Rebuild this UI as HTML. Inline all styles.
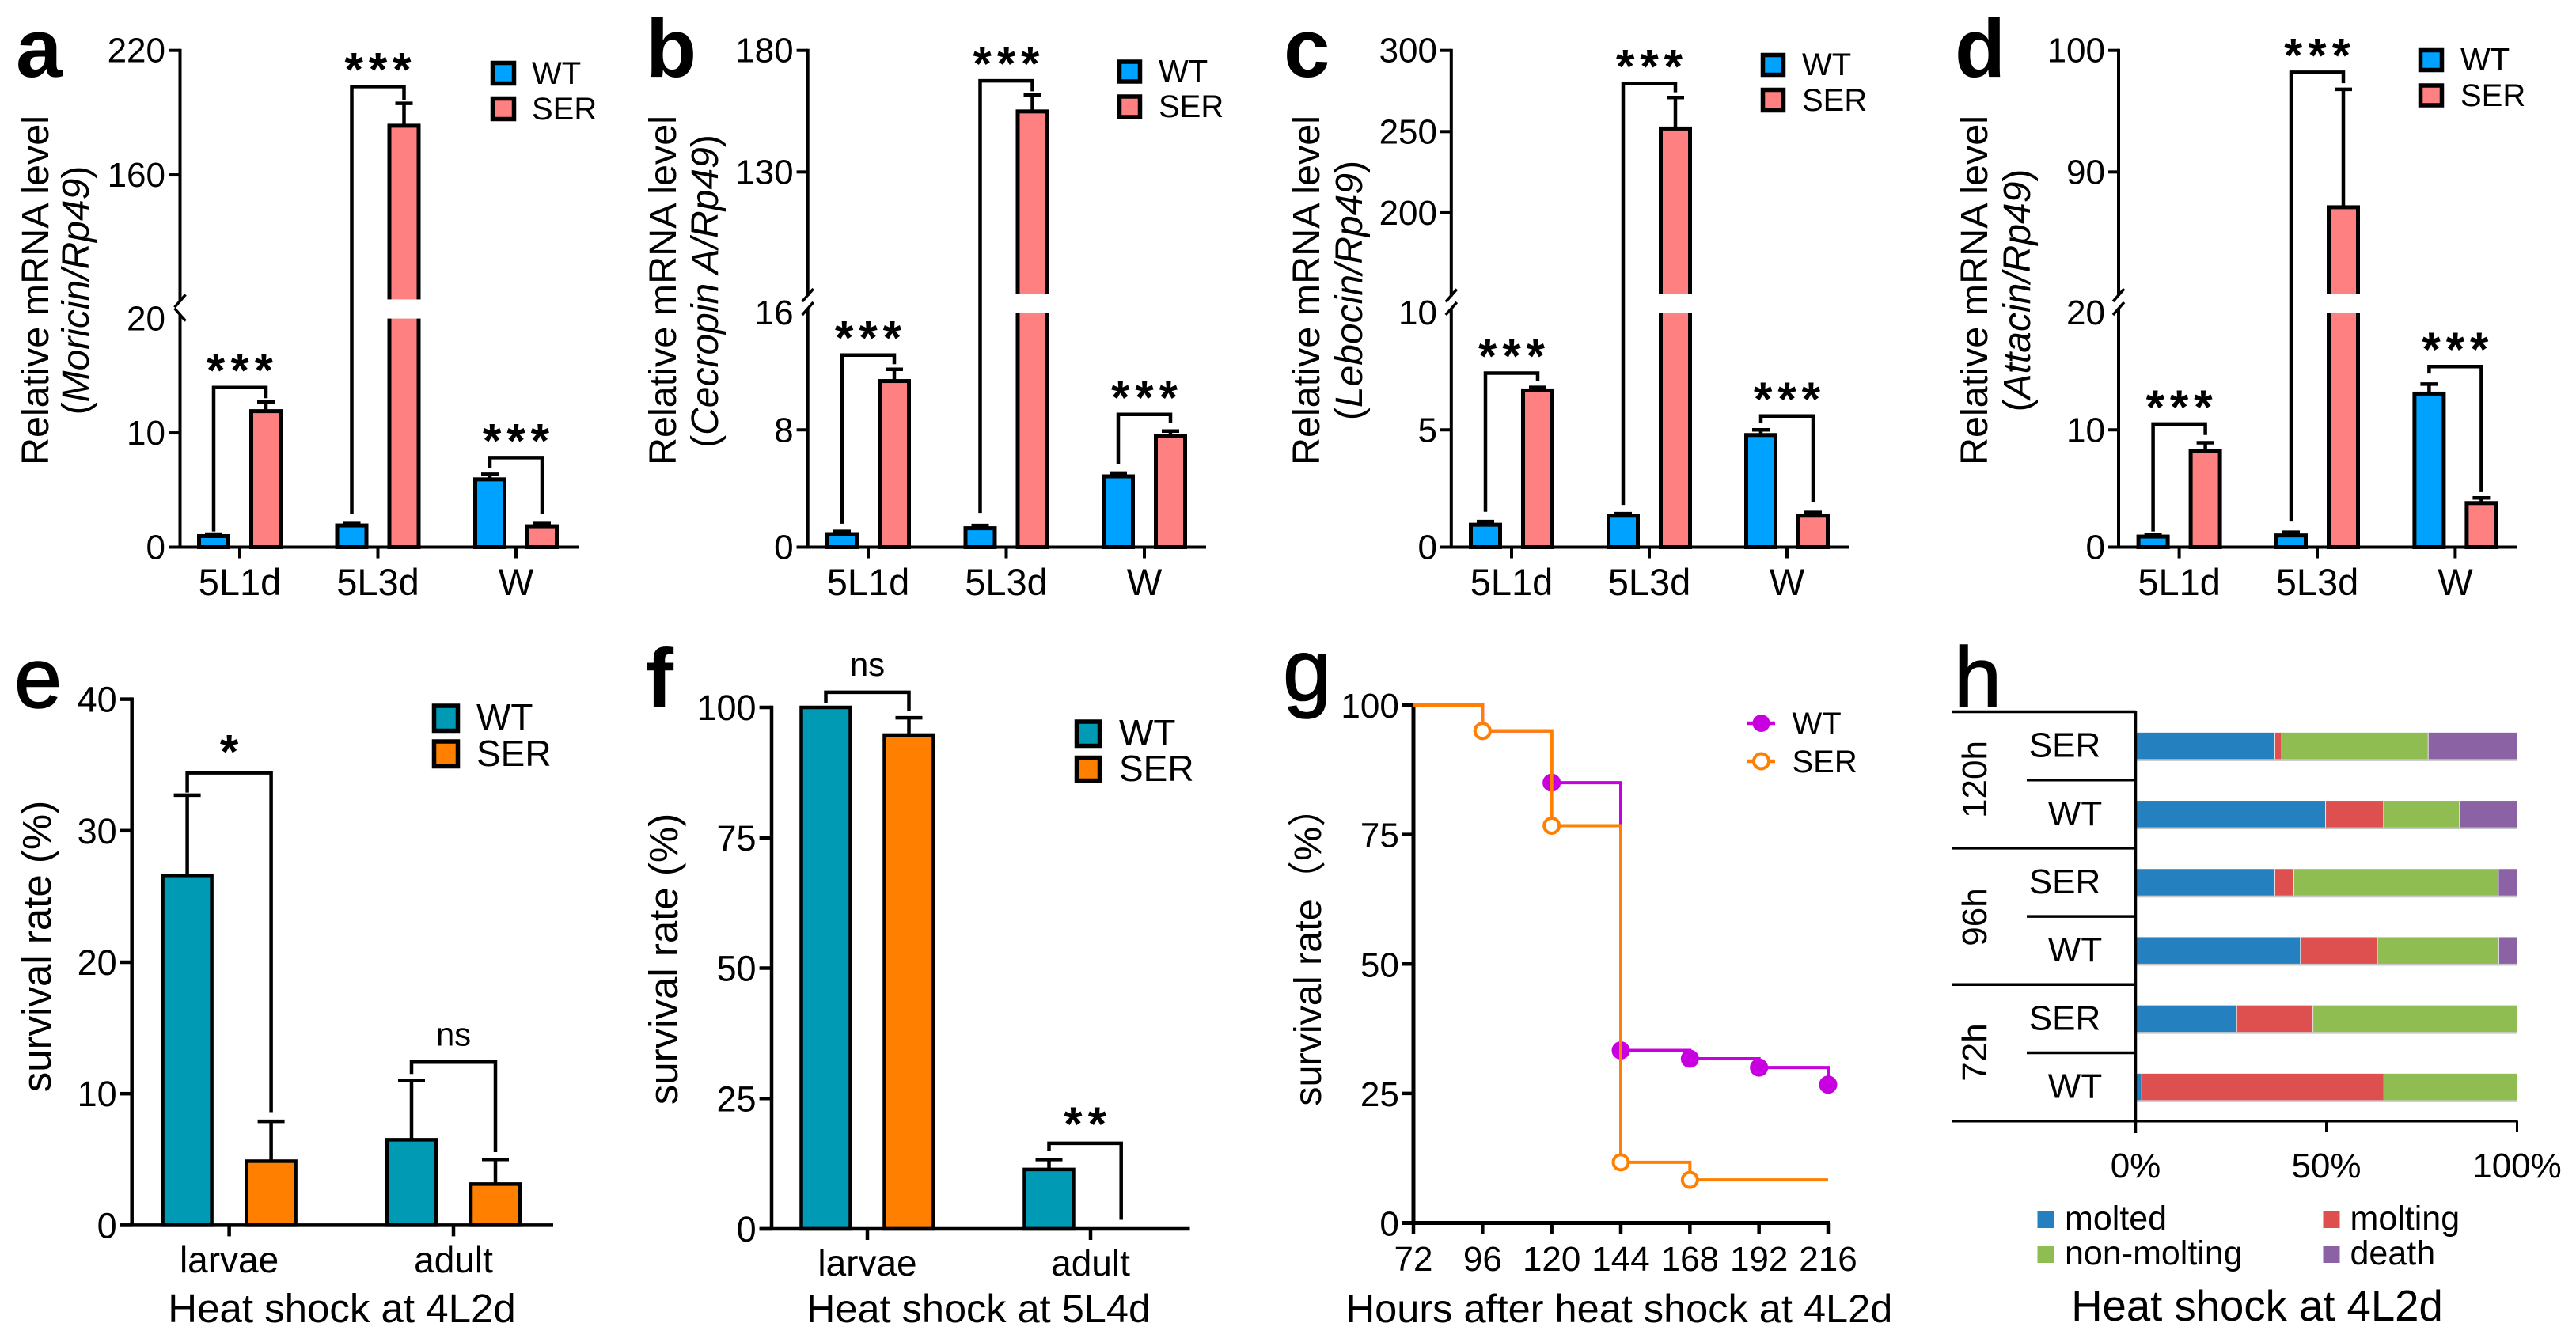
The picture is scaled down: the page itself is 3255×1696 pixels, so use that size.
<!DOCTYPE html>
<html lang="en">
<head>
<meta charset="utf-8">
<title>Relative mRNA levels and survival rates, panels a to h</title>
<style>
html,body{margin:0;padding:0;background:#fff;}
svg{display:block;}
text{font-family:"Liberation Sans","Noto Sans CJK SC",sans-serif;fill:#000;}
.letter{font-size:105px;font-weight:bold;}
.letter-light{font-size:108px;stroke:#000;stroke-width:1.5;}
.ytitle{font-size:48.5px;text-anchor:middle;}
.ltxt{font-size:40px;}
.ltxt2{font-size:46px;}
.xtitle{font-size:50.5px;text-anchor:middle;}
.it{font-style:italic;}
.sw{stroke:#000;stroke-width:5.5;}
</style>
</head>
<body>
<svg id="fig" xmlns="http://www.w3.org/2000/svg" width="3255" height="1696" viewBox="0 0 3255 1696">
<rect width="3255" height="1696" fill="#fff"/>

<g id="panel-a">
  <text class="letter" x="20" y="97">a</text>
  <text class="ytitle" transform="translate(61,367) rotate(-90)">Relative mRNA level</text>
  <text class="ytitle" style="font-size:48px" transform="translate(112,367) rotate(-90)">(<tspan class="it">Moricin/Rp49</tspan>)</text>
  <rect class="sw" x="622.5" y="79.5" width="27" height="26" fill="#00a2ff"/>
  <rect class="sw" x="622.5" y="124.5" width="27" height="26" fill="#ff8080"/>
  <text class="ltxt" x="672" y="106">WT</text>
  <text class="ltxt" x="672" y="151">SER</text>
</g>

<g id="panel-b">
  <text class="letter" x="816" y="97">b</text>
  <text class="ytitle" transform="translate(854,367) rotate(-90)">Relative mRNA level</text>
  <text class="ytitle" style="font-size:48px" transform="translate(907,368) rotate(-90)">(<tspan class="it">Cecropin A/Rp49</tspan>)</text>
  <rect class="sw" x="1414.5" y="78" width="26" height="25" fill="#00a2ff"/>
  <rect class="sw" x="1414.5" y="122" width="26" height="26" fill="#ff8080"/>
  <text class="ltxt" x="1464" y="103.5">WT</text>
  <text class="ltxt" x="1464" y="148">SER</text>
</g>

<g id="panel-c">
  <text class="letter" x="1622" y="97">c</text>
  <text class="ytitle" transform="translate(1667,367) rotate(-90)">Relative mRNA level</text>
  <text class="ytitle" style="font-size:48px" transform="translate(1721,367) rotate(-90)">(<tspan class="it">Lebocin/Rp49</tspan>)</text>
  <rect class="sw" x="2227.5" y="69.5" width="26" height="25" fill="#00a2ff"/>
  <rect class="sw" x="2227.5" y="113.5" width="26" height="26" fill="#ff8080"/>
  <text class="ltxt" x="2277" y="95">WT</text>
  <text class="ltxt" x="2277" y="140">SER</text>
</g>

<g id="panel-d">
  <text class="letter" x="2470" y="97">d</text>
  <text class="ytitle" transform="translate(2511,367) rotate(-90)">Relative mRNA level</text>
  <text class="ytitle" style="font-size:48px" transform="translate(2565,367) rotate(-90)">(<tspan class="it">Attacin/Rp49</tspan>)</text>
  <rect class="sw" x="3058.5" y="63.5" width="27" height="25" fill="#00a2ff"/>
  <rect class="sw" x="3058.5" y="108" width="27" height="25" fill="#ff8080"/>
  <text class="ltxt" x="3109" y="88.5">WT</text>
  <text class="ltxt" x="3109" y="134">SER</text>
</g>

<g id="panel-e">
  <text class="letter-light" x="18" y="894">e</text>
  <text class="ytitle" style="font-size:51px" transform="translate(64,1196) rotate(-90)">survival rate (%)</text>
  <text class="xtitle" style="font-size:51px" x="432" y="1671">Heat shock at 4L2d</text>
  <rect class="sw" x="548.5" y="892" width="30" height="31.5" fill="#009ab5"/>
  <rect class="sw" x="548.5" y="937" width="30" height="31.5" fill="#ff8000"/>
  <text class="ltxt2" x="602" y="922">WT</text>
  <text class="ltxt2" x="602" y="968">SER</text>
</g>

<g id="panel-f">
  <text class="letter" x="816" y="893">f</text>
  <text class="ytitle" style="font-size:51px" transform="translate(856,1212) rotate(-90)">survival rate (%)</text>
  <text class="xtitle" x="1236.5" y="1671">Heat shock at 5L4d</text>
  <rect class="sw" x="1360.5" y="912" width="29" height="30.5" fill="#009ab5"/>
  <rect class="sw" x="1360.5" y="957.5" width="29" height="29" fill="#ff8000"/>
  <text class="ltxt2" x="1414" y="942">WT</text>
  <text class="ltxt2" x="1414" y="987">SER</text>
</g>

<g id="panel-g">
  <text class="letter-light" style="font-size:110px" x="1621" y="885">g</text>
  <text class="ytitle" style="font-size:48.5px" transform="translate(1669,1197) rotate(-90)">survival rate（%）</text>
  <text class="xtitle" x="2046" y="1671">Hours after heat shock at 4L2d</text>
  <line x1="2208" y1="914" x2="2243" y2="914" stroke="#c800e0" stroke-width="4.5"/>
  <ellipse cx="2225.5" cy="914" rx="11" ry="11" fill="#c800e0"/>
  <line x1="2208" y1="962" x2="2243" y2="962" stroke="#ff8000" stroke-width="4.5"/>
  <circle cx="2225.5" cy="962" r="9.5" fill="#fff" stroke="#ff8000" stroke-width="4"/>
  <text class="ltxt" x="2264.5" y="928">WT</text>
  <text class="ltxt" x="2264.5" y="976">SER</text>
</g>

<g id="panel-h">
  <text class="letter-light" x="2469" y="893">h</text>
  <text class="ytitle" style="font-size:44px" transform="translate(2510,985) rotate(-90)">120h</text>
  <text class="ytitle" style="font-size:44px" transform="translate(2510,1159) rotate(-90)">96h</text>
  <text class="ytitle" style="font-size:44px" transform="translate(2510,1330) rotate(-90)">72h</text>
  <text class="xtitle" style="font-size:54.5px" x="2852" y="1669">Heat shock at 4L2d</text>
  <rect x="2574.5" y="1530" width="21.5" height="22" fill="#2580c0"/>
  <rect x="2574.5" y="1575" width="21.5" height="21" fill="#8fbd52"/>
  <rect x="2935.5" y="1530" width="21" height="22" fill="#de5050"/>
  <rect x="2935.5" y="1575" width="21" height="21" fill="#8b62a3"/>
  <text style="font-size:43px" x="2609" y="1554">molted</text>
  <text style="font-size:43px" x="2609" y="1598">non-molting</text>
  <text style="font-size:43px" x="2969.5" y="1554">molting</text>
  <text style="font-size:43px" x="2969.5" y="1598">death</text>
</g>
</svg>

<script>
// ---------- chart data ----------
const mrnaCategories = ['5L1d', '5L3d', 'W'];
const stageCategories = ['larvae', 'adult'];

const aTicks = [0, 10, 20, 160, 220];
const aWT = [0.97, 1.9, 5.93];
const aWTErr = [1.14, 2.07, 6.38];
const aSER = [11.9, 183.7, 1.83];
const aSERErr = [12.7, 194.5, 2.07];
const aBracketTop = [13.97, 202.6, 7.83];
const aBracketLeft = [1.38, 2.93, 6.9];
const aBracketRight = [13.03, 195.9, 2.93];
const aMarks = ['***', '***', '***'];

const bTicks = [0, 8, 16, 130, 180];
const bWT = [0.89, 1.29, 4.83];
const bWTErr = [1.07, 1.48, 5.05];
const bSER = [11.33, 154.9, 7.6];
const bSERErr = [12.13, 161.6, 7.92];
const bBracketTop = [13.1, 167.5, 9.05];
const bBracketLeft = [1.6, 2.34, 5.69];
const bBracketRight = [12.48, 163.2, 8.46];
const bMarks = ['***', '***', '***'];

const cTicks = [0, 5, 10, 200, 250, 300];
const cWT = [0.956, 1.34, 4.78];
const cWTErr = [1.09, 1.43, 5.0];
const cSER = [6.68, 251.9, 1.34];
const cSERErr = [6.81, 271, 1.48];
const cBracketTop = [7.42, 279.7, 5.59];
const cBracketLeft = [1.51, 1.8, 5.29];
const cBracketRight = [7.08, 274.2, 1.93];
const cMarks = ['***', '***', '***'];

const dTicks = [0, 10, 20, 90, 100];
const dWT = [0.906, 1.0, 13.09];
const dWTErr = [1.1, 1.27, 13.9];
const dSER = [8.2, 87.1, 3.76];
const dSERErr = [8.9, 96.8, 4.2];
const dBracketTop = [10.5, 98.2, 15.4];
const dBracketLeft = [1.34, 2.18, 14.8];
const dBracketRight = [9.56, 97.3, 4.7];
const dMarks = ['***', '***', '***'];

const eTicks = [0, 10, 20, 30, 40];
const eWT = [26.6, 6.5];
const eWTErr = [32.7, 11.0];
const eSER = [4.87, 3.13];
const eSERErr = [7.9, 5.0];
const eBracketTop = [34.4, 12.4];
const eBracketLeft = [32.9, 11.5];
const eBracketRight = [8.6, 5.56];
const eMarks = ['*', 'ns'];

const fTicks = [0, 25, 50, 75, 100];
const fWT = [100, 11.4];
const fWTErr = [100, 13.3];
const fSER = [94.7, 0];
const fSERErr = [98, 0];
const fBracketTop = [102.9, 16.4];
const fBracketLeft = [100.9, 14.9];
const fBracketRight = [99.3, 1.75];
const fMarks = ['ns', '**'];

const gHours = [72, 96, 120, 144, 168, 192, 216];
const gTicks = [0, 25, 50, 75, 100];
const gWT = [100, 95, 85, 33.3, 31.7, 30, 26.7];
const gSER = [100, 95, 76.7, 11.7, 8.3, 8.3, 8.3];

const hRows = ['SER', 'WT', 'SER', 'WT', 'SER', 'WT'];
const hMolted = [36.5, 49.8, 36.5, 43.2, 26.5, 1.6];
const hMolting = [1.8, 15.2, 5, 20.2, 20, 63.5];
const hNonMolting = [38.4, 19.9, 53.6, 31.8, 53.5, 34.9];
const hDeath = [23.3, 15.1, 4.9, 4.8, 0, 0];
const hTicks = [0, 50, 100];

// ---------- helpers ----------
const NS = 'http://www.w3.org/2000/svg';
function mk(tag, attrs, parent, name) {
  const el = document.createElementNS(NS, tag);
  for (const k in attrs) el.setAttribute(k, attrs[k]);
  
  
  parent.appendChild(el);
  return el;
}
function txt(str, attrs, parent, name) {
  const el = mk('text', attrs, parent, name);
  el.textContent = str;
  return el;
}
function line(x1, y1, x2, y2, w, parent, name, color) {
  return mk('line', {x1: x1, y1: y1, x2: x2, y2: y2, stroke: color || '#000', 'stroke-width': w}, parent, name);
}
function yScale(s) {
  return function (v) {
    if (s.lowMax === undefined) return s.base - v / s.max * (s.base - s.top);
    if (v <= s.lowMax) return s.base - v / s.lowMax * (s.base - s.lowTop);
    return s.upBottom - (v - s.upMin) / (s.max - s.upMin) * (s.upBottom - s.top);
  };
}

function barPanel(id, L, cats, ticks, wt, wtErr, ser, serErr, bTop, bLeft, bRight, marks) {
  const g = document.getElementById('panel-' + id);
  const y = yScale(L.y);
  const xCat = function (i) { return L.catX0 + L.catStep * i; };
  const sw = L.barStroke, ax = L.axisStroke;

  // y axis
  if (L.y.lowMax !== undefined) {
    line(L.axisX, L.y.top - ax / 2, L.axisX, L.y.upBottom + 3, ax, g, 'y-axis-upper-' + id);
    line(L.axisX, L.y.lowTop - 5, L.axisX, L.y.base, ax, g, 'y-axis-lower-' + id);
    const m = L.mirrorBreak ? -1 : 1;
    line(L.axisX - 7, L.y.upBottom + 10, L.axisX + 7, L.y.upBottom - 6, 3.5, g, 'axis-break-upper-' + id);
    line(L.axisX - 7, L.y.lowTop - 5 + 8 * (m === -1 ? -1 : 1), L.axisX + 7, L.y.lowTop - 5 - 8 * (m === -1 ? -1 : 1), 3.5, g, 'axis-break-lower-' + id);
  } else {
    line(L.axisX, L.y.top - ax / 2, L.axisX, L.y.base, ax, g, 'y-axis-' + id);
  }
  // y ticks
  ticks.forEach(function (t) {
    if (t !== L.y.lowMax) line(L.tickStart, y(t), L.axisX, y(t), ax, g, 'y-tick-' + id + '-' + t);
    txt(String(t), {x: L.tickStart - 4, y: y(t) + L.tickDy, 'text-anchor': 'end', 'font-size': L.tickFont}, g, 'y-tick-label-' + id + '-' + t);
  });

  // bars
  cats.forEach(function (c, i) {
    const cx = xCat(i);
    [[wt, wtErr, -1, 'wt', L.colors[0]], [ser, serErr, 1, 'ser', L.colors[1]]].forEach(function (S) {
      const v = S[0][i], e = S[1][i], bx = cx + S[2] * L.halfGap;
      if (e > v) {
        line(bx, y(v), bx, y(e), 4.5, g, 'error-bar-' + id + '-' + S[3] + '-' + c);
        line(bx - L.capW / 2, y(e), bx + L.capW / 2, y(e), 4.5, g, 'error-cap-' + id + '-' + S[3] + '-' + c);
      }
      if (v > 0) {
        mk('rect', {x: bx - L.barW / 2, y: y(v), width: L.barW, height: L.y.base - y(v), fill: S[4], stroke: '#000', 'stroke-width': sw}, g, 'bar-' + id + '-' + S[3] + '-' + c);
        if (L.y.lowMax !== undefined && v > L.y.lowMax) {
          mk('rect', {x: bx - L.barW / 2 - sw, y: L.y.upBottom, width: L.barW + 2 * sw, height: L.y.lowTop - L.y.upBottom, fill: '#fff'}, g, 'bar-break-gap-' + id + '-' + c);
        }
      }
    });
  });

  // x axis
  line(L.tickStart, L.y.base, L.axisEnd, L.y.base, ax, g, 'x-axis-' + id);
  cats.forEach(function (c, i) {
    line(xCat(i), L.y.base, xCat(i), L.y.base + 14, ax, g, 'x-tick-' + id + '-' + c);
    txt(c, {x: xCat(i), y: L.catBaseline, 'text-anchor': 'middle', 'font-size': L.catFont}, g, 'x-tick-label-' + id + '-' + c);
  });

  // significance brackets
  bTop.forEach(function (t, i) {
    const xl = xCat(i) - L.halfGap;
    const xr = xCat(i) + (L.bracketRightOffset ? L.bracketRightOffset[i] : L.halfGap);
    const mid = (xl + xr) / 2;
    mk('path', {d: 'M' + xl + ' ' + y(bLeft[i]) + 'V' + y(t) + 'H' + xr + 'V' + y(bRight[i]), fill: 'none', stroke: '#000', 'stroke-width': 4.5}, g, 'significance-bracket-' + id + '-' + i);
    if (marks[i] === 'ns') {
      txt('ns', {x: mid, y: y(t) - 21, 'text-anchor': 'middle', 'font-size': 42}, g, 'significance-label-' + id + '-' + i);
    } else {
      txt(marks[i], {x: mid + 3.5, y: y(t) + L.markDy, 'text-anchor': 'middle', 'font-size': 60, 'font-weight': 'bold', 'letter-spacing': 7}, g, 'significance-label-' + id + '-' + i);
    }
  });
}

// ---------- panels a-f ----------
const mrnaColors = ['#00a2ff', '#ff8080'];
const stageColors = ['#009ab5', '#ff8000'];
const mrnaCommon = {tickDy: 15, tickFont: 44, catFont: 47, catBaseline: 752, halfGap: 33, barW: 37, capW: 22, barStroke: 5, axisStroke: 4, colors: mrnaColors, markDy: -1};
const stageCommon = {tickDy: 16, tickFont: 45, catFont: 46, barW: 62, capW: 34, barStroke: 4.5, axisStroke: 4.5, colors: stageColors};

barPanel('a', Object.assign({}, mrnaCommon, {axisX: 227.5, tickStart: 213, axisEnd: 732, catX0: 303, catStep: 174.5, mirrorBreak: true,
  y: {base: 691.5, lowMax: 20, lowTop: 402.6, upMin: 100, upBottom: 378.4, max: 220, top: 63.7}}),
  mrnaCategories, aTicks, aWT, aWTErr, aSER, aSERErr, aBracketTop, aBracketLeft, aBracketRight, aMarks);

barPanel('b', Object.assign({}, mrnaCommon, {axisX: 1020.7, tickStart: 1006.6, axisEnd: 1524, catX0: 1097, catStep: 174.5,
  y: {base: 691.5, lowMax: 16, lowTop: 395, upMin: 80, upBottom: 371, max: 180, top: 63.7}}),
  mrnaCategories, bTicks, bWT, bWTErr, bSER, bSERErr, bBracketTop, bBracketLeft, bBracketRight, bMarks);

barPanel('c', Object.assign({}, mrnaCommon, {axisX: 1833.8, tickStart: 1820, axisEnd: 2337, catX0: 1910, catStep: 174,
  y: {base: 691.5, lowMax: 10, lowTop: 395, upMin: 150, upBottom: 371.5, max: 300, top: 63.7}}),
  mrnaCategories, cTicks, cWT, cWTErr, cSER, cSERErr, cBracketTop, cBracketLeft, cBracketRight, cMarks);

barPanel('d', Object.assign({}, mrnaCommon, {axisX: 2677, tickStart: 2664, axisEnd: 3181, catX0: 2753.6, catStep: 174.4,
  y: {base: 691.5, lowMax: 20, lowTop: 395, upMin: 80, upBottom: 371, max: 100, top: 63.7}}),
  mrnaCategories, dTicks, dWT, dWTErr, dSER, dSERErr, dBracketTop, dBracketLeft, dBracketRight, dMarks);

barPanel('e', Object.assign({}, stageCommon, {axisX: 166.7, tickStart: 151.7, axisEnd: 699, catX0: 289.6, catStep: 283.4, halfGap: 53, catBaseline: 1608, markDy: -6,
  y: {base: 1548.4, max: 40, top: 883.6}}),
  stageCategories, eTicks, eWT, eWTErr, eSER, eSERErr, eBracketTop, eBracketLeft, eBracketRight, eMarks);

barPanel('f', Object.assign({}, stageCommon, {axisX: 975, tickStart: 959.6, axisEnd: 1503.5, catX0: 1096, catStep: 282, halfGap: 52.5, catBaseline: 1612, markDy: -4, bracketRightOffset: [52.5, 38.7],
  y: {base: 1553, max: 100, top: 894}}),
  stageCategories, fTicks, fWT, fWTErr, fSER, fSERErr, fBracketTop, fBracketLeft, fBracketRight, fMarks);

// ---------- panel g ----------
(function () {
  const g = document.getElementById('panel-g');
  const L = {axisX: 1786, xEnd: 2310, tickStart: 1771.8, base: 1545.5, top: 891};
  const x = function (t) { return L.axisX + (t - gHours[0]) / (gHours[gHours.length - 1] - gHours[0]) * (L.xEnd - L.axisX); };
  const y = function (v) { return L.base - v / 100 * (L.base - L.top); };

  line(L.axisX, L.top - 2, L.axisX, L.base, 5, g, 'y-axis-g');
  line(L.tickStart, L.base, L.xEnd + 2, L.base, 5, g, 'x-axis-g');
  gTicks.forEach(function (t) {
    line(L.tickStart, y(t), L.axisX, y(t), 4.5, g, 'y-tick-g-' + t);
    txt(String(t), {x: L.tickStart - 4, y: y(t) + 16, 'text-anchor': 'end', 'font-size': 44}, g, 'y-tick-label-g-' + t);
  });
  gHours.forEach(function (h) {
    line(x(h), L.base, x(h), L.base + 14, 4.5, g, 'x-tick-g-' + h);
    txt(String(h), {x: x(h), y: 1606, 'text-anchor': 'middle', 'font-size': 44}, g, 'x-tick-label-g-' + h);
  });

  function series(vals, color, hollow, name) {
    let d = 'M' + x(gHours[0]) + ' ' + y(vals[0]);
    for (let i = 1; i < vals.length; i++) d += 'H' + x(gHours[i]) + 'V' + y(vals[i]);
    mk('path', {d: d, fill: 'none', stroke: color, 'stroke-width': 4}, g, 'survival-line-' + name);
    for (let i = 1; i < vals.length; i++) {
      if (vals[i] === vals[i - 1]) continue;
      if (hollow) {
        mk('circle', {cx: x(gHours[i]), cy: y(vals[i]), r: 9.5, fill: '#fff', stroke: color, 'stroke-width': 4}, g, 'survival-point-' + name + '-' + gHours[i]);
      } else {
        mk('circle', {cx: x(gHours[i]), cy: y(vals[i]), r: 11.5, fill: color}, g, 'survival-point-' + name + '-' + gHours[i]);
      }
    }
  }
  series(gWT, '#c800e0', false, 'wt');
  series(gSER, '#ff8000', true, 'ser');
})();

// ---------- panel h ----------
(function () {
  const g = document.getElementById('panel-h');
  const L = {x0: 2698.5, xEnd: 3180.5, row0: 942.6, rowStep: 86.2, barH: 33.5};
  const x = function (p) { return L.x0 + p / 100 * (L.xEnd - L.x0); };
  const series = [[hMolted, '#2580c0', 'molted'], [hMolting, '#de5050', 'molting'], [hNonMolting, '#8fbd52', 'non-molting'], [hDeath, '#8b62a3', 'death']];

  hRows.forEach(function (r, i) {
    const cy = L.row0 + i * L.rowStep;
    mk('rect', {x: x(0), y: cy + L.barH / 2, width: x(100) - x(0), height: 2.5, fill: '#c6c6c6'}, g, 'bar-shadow-' + i);
    let acc = 0;
    series.forEach(function (S) {
      const v = S[0][i];
      if (v > 0) {
        mk('rect', {x: x(acc), y: cy - L.barH / 2, width: x(acc + v) - x(acc), height: L.barH, fill: S[1]}, g, 'segment-' + S[2] + '-row-' + i);
        if (acc > 0) mk('rect', {x: x(acc) - 0.5, y: cy - L.barH / 2, width: 1, height: L.barH, fill: '#e8e8e8'}, g, 'segment-separator-' + i);
      }
      acc += v;
    });
    txt(r, {x: r === 'SER' ? 2609 : 2622, y: cy + 14, 'text-anchor': 'middle', 'font-size': 44}, g, 'row-label-' + i);
  });

  // table lines
  line(x(0), 898, x(0), 1432, 3.5, g, 'y-axis-h');
  const fullLines = [0, 2, 4, 6], subLines = [1, 3, 5];
  fullLines.forEach(function (k) {
    const yy = L.row0 - L.rowStep / 2 + k * L.rowStep + 0;
    line(2467, yy, k === 6 ? x(100) + 1 : x(0), yy, 3.5, g, 'group-divider-' + k);
  });
  subLines.forEach(function (k) {
    const yy = L.row0 - L.rowStep / 2 + k * L.rowStep;
    line(2561, yy, x(0), yy, 3.5, g, 'row-divider-' + k);
  });
  hTicks.forEach(function (t) {
    const by = L.row0 - L.rowStep / 2 + 6 * L.rowStep;
    line(x(t), by, x(t), by + 14, 3, g, 'x-tick-h-' + t);
    txt(t + '%', {x: x(t), y: 1488, 'text-anchor': 'middle', 'font-size': 44}, g, 'x-tick-label-h-' + t);
  });
})();
</script>
</body>
</html>
